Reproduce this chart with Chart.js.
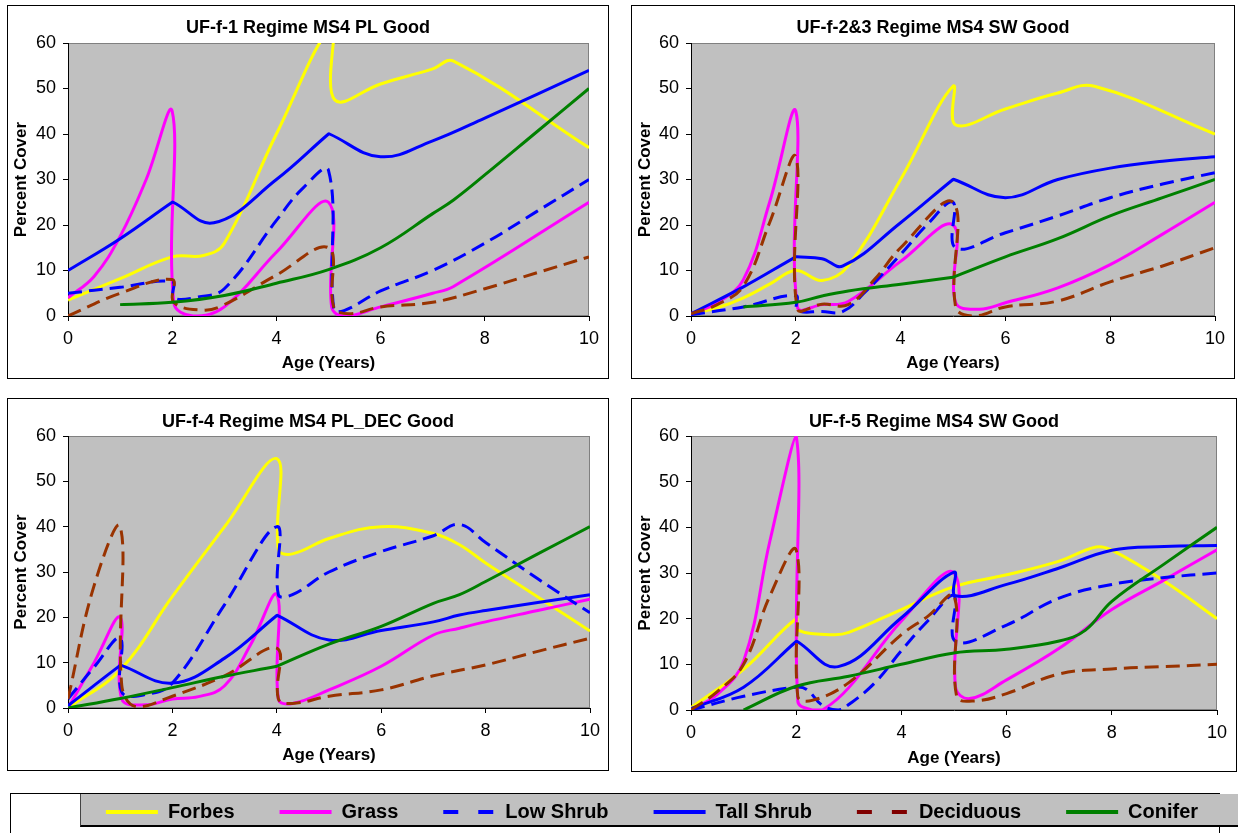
<!DOCTYPE html>
<html>
<head>
<meta charset="utf-8">
<title>Percent cover by age</title>
<script src="https://cdn.jsdelivr.net/npm/chart.js@4.4.1/dist/chart.umd.min.js"></script>
<style>
  html, body { margin: 0; padding: 0; background: #fff; }
  body { position: relative; width: 1238px; height: 833px; overflow: hidden; }
  .panel { position: absolute; box-sizing: border-box; border: 1px solid #000; background: #fff; }
  .panel canvas { display: block; }
  #legendFrame { position: absolute; left: 10px; top: 793px; width: 1210px; height: 60px; box-sizing: border-box; border: 1px solid #000; background: #fff; }
  #legendBand { position: absolute; left: 80px; top: 794px; width: 1170px; height: 33px; box-sizing: border-box; background: #c0c0c0; border-left: 1px solid #444; border-bottom: 2px solid #000; }
  #legendCanvas { position: absolute; left: 37px; top: 757px; }
</style>
</head>
<body>
<div class="panel" id="panel0"><canvas id="chart0"></canvas></div>
<div class="panel" id="panel1"><canvas id="chart1"></canvas></div>
<div class="panel" id="panel2"><canvas id="chart2"></canvas></div>
<div class="panel" id="panel3"><canvas id="chart3"></canvas></div>
<div id="legendFrame"></div>
<div id="legendBand"></div>
<canvas id="legendCanvas" width="1230" height="130"></canvas>
<script>
// values, each point is [age in years, percent cover]
// two points at nearly the same age give the sharp turns of the original
const seriesNames = ['Forbes', 'Grass', 'Low Shrub', 'Tall Shrub', 'Deciduous', 'Conifer'];
const panelTitles = [
  'UF-f-1 Regime MS4 PL Good',
  'UF-f-2&3 Regime MS4 SW Good',
  'UF-f-4 Regime MS4 PL_DEC Good',
  'UF-f-5 Regime MS4 SW Good'
];
const xTickValues = [0, 2, 4, 6, 8, 10];
const yTickValues = [0, 10, 20, 30, 40, 50, 60];

// UF-f-1
const p1Forbes = [[0,3.5],[1,8.2],[2,13],[2.6,13.3],[3,16],[4,40],[5.05,63],[5.12,47.5],[6,51],[7,54.3],[7.4,56],[10,37]];
const p1Grass = [[0,4],[0.5,8.7],[1,17.5],[1.5,30],[2,45],[2.03,3],[2.4,0],[3,2],[4,14],[5,25],[5.06,2],[5.3,0],[6,2],[7,5],[7.4,6.5],[10,25]];
const p1LowShrub = [[0,5],[1,6.3],[2,7.5],[2.03,4],[2.5,4.2],[3,6],[4,21],[4.5,28],[5,32],[5.1,1.5],[5.3,1.2],[6,5.5],[7,10],[8,16],[9,23],[10,30]];
const p1TallShrub = [[0,10],[1,17],[2,25],[2.02,25],[2.8,20.5],[4,30],[5,40],[5.02,40],[6,35],[7,38.5],[8,43.5],[10,54]];
const p1Deciduous = [[0,0],[1,5],[2,8],[2.03,3],[2.6,1.3],[3,2.5],[4,9],[5,15],[5.1,2],[5.4,0.5],[6,2],[7,3],[8,6],[9,9.5],[10,13]];
const p1Conifer = [[1,2.5],[2,3],[3,4.5],[4,7.2],[5,10.2],[6,15],[7,22.5],[7.4,25.5],[8,31],[9,40.5],[10,50]];

// UF-f-2&3
const p2Forbes = [[0,0.5],[0.5,1.8],[1,4],[1.5,7],[2,10],[2.5,7.8],[3,11],[4,30],[5,50.5],[5.05,42],[6,45.5],[7,49],[7.7,50.5],[10,40]];
const p2Grass = [[0,0.5],[0.5,2.9],[1,8],[1.5,25],[2,45],[2.03,2],[2.5,2.5],[3,3.2],[4,12],[5,20],[5.05,3],[5.5,1.5],[6,2.9],[7,6.2],[8,11.3],[9,18],[10,25]];
const p2LowShrub = [[0,0.3],[1,2],[2,4.5],[2.03,1.3],[2.5,1],[2.9,1],[3.3,5],[4,13.5],[4.5,20],[5,25],[5.05,15],[6,18.3],[7,22],[8,26],[9,29],[10,31.5]];
const p2TallShrub = [[0,0.5],[1,6.4],[2,13],[2.02,13],[2.5,12.6],[2.9,11],[4,20.5],[5,30],[5.02,30],[6,26],[7,30],[8,32.5],[9,34],[10,35]];
const p2Deciduous = [[0,0.5],[0.5,2.5],[1,6.6],[1.5,20.5],[2,35],[2.03,1.5],[2.5,2.6],[3,2.5],[3.5,8],[4,15],[5,25],[5.05,2],[5.4,0],[6,2],[7,3.3],[8,7.5],[9,11],[10,15]];
const p2Conifer = [[1,2],[2,3],[2.5,4.4],[3,5.5],[4,7],[5,8.5],[5.02,8.6],[6,13],[7,17],[8,22],[9,26],[10,30]];

// UF-f-4
const p3Forbes = [[0,0],[1,8.4],[2,24.6],[3,40],[4,55],[4.03,35],[4.3,34],[5,37.4],[6,40],[7,38.5],[7.5,36],[8,32],[9,24.5],[10,17]];
const p3Grass = [[0,0],[0.5,10],[1,20],[1.03,2],[1.5,0.7],[2,2],[2.5,2.5],[3,4.9],[3.5,14],[4,25],[4.03,2],[4.3,1],[5,4],[6,9.2],[7,16.1],[7.5,17.6],[8,19],[9,21.5],[10,24]];
const p3LowShrub = [[0,2],[0.5,9],[1,15.4],[1.03,3.5],[1.5,3],[2,5.5],[3,22.8],[4,40],[4.03,25],[4.3,25],[5,30],[6,34.5],[7,38],[7.5,40.5],[8,36.5],[9,28.5],[10,21]];
const p3TallShrub = [[0,0.5],[1,9.4],[1.02,9.4],[2,5.5],[3,11],[4,20.4],[4.02,20.4],[5,15],[6,17.1],[7,19],[7.5,20.5],[8,21.5],[10,25]];
const p3Deciduous = [[0,2],[0.5,27],[1,40],[1.03,5],[1.3,0.3],[2,2.6],[3,7.1],[4,13.2],[4.03,2],[4.3,1],[5,2.6],[6,4],[7,7.1],[8,9.5],[9,12.5],[10,15.4]];
const p3Conifer = [[0,0],[1,2.1],[2,4.5],[3,7],[4,9.2],[4.02,9.3],[5,14.1],[6,18],[7,23.1],[7.5,25],[8,27.9],[9,34],[10,40]];

// UF-f-5
const p4Forbes = [[0,0.5],[1,8.9],[2,20],[2.03,17.5],[2.7,16.5],[3,17],[4,22],[5,27],[6,29.6],[7,32.6],[7.7,35.7],[8,35],[9,28.2],[10,20]];
const p4Grass = [[0,0],[0.5,3.4],[1,10.7],[1.5,37],[2,60],[2.03,2],[2.3,0],[2.5,0],[3,4.9],[4,19.5],[5,30],[5.03,5],[5.3,2.5],[6,6.6],[7,13.5],[8,22],[9,28.5],[10,35.1]];
const p4LowShrub = [[0,0],[1,3],[2,5],[2.2,4.5],[2.5,1],[2.8,0],[3,1.2],[3.5,6],[4,13],[4.5,19.5],[5,25],[5.03,15],[6,18.6],[7,24.5],[8,27.5],[9,29],[10,30]];
const p4TallShrub = [[0,0.3],[1,5],[2,15],[2.02,15],[2.8,9.5],[4,20.2],[5,30.2],[5.03,25],[6,27.5],[7,31.1],[8,35],[9,35.8],[10,36]];
const p4Deciduous = [[0,0],[0.5,4],[1,10],[1.5,25],[2,35],[2.03,3],[2.3,2.1],[3,6],[4,16.5],[4.5,20.5],[5,25],[5.05,3],[5.4,2],[6,3.6],[7,7.9],[8,9],[9,9.5],[10,10]];
const p4Conifer = [[1,0],[2,5.2],[3,7.4],[4,10],[5,12.5],[6,13.3],[7,15.1],[7.5,17.5],[8,23.8],[9,32],[10,40]];

const panelSeries = [
  [p1Forbes, p1Grass, p1LowShrub, p1TallShrub, p1Deciduous, p1Conifer],
  [p2Forbes, p2Grass, p2LowShrub, p2TallShrub, p2Deciduous, p2Conifer],
  [p3Forbes, p3Grass, p3LowShrub, p3TallShrub, p3Deciduous, p3Conifer],
  [p4Forbes, p4Grass, p4LowShrub, p4TallShrub, p4Deciduous, p4Conifer]
];

// styling
const seriesColors = ['#ffff00', '#ff00ff', '#0000ff', '#0000ff', '#993300', '#008000'];
const seriesDash = [[], [], [14, 7], [], [14, 7], []];
const legendColors = ['#ffff00', '#ff00ff', '#0000ff', '#0000ff', '#800000', '#008000'];
const legendDash = [[], [], [15, 20], [], [15, 20], []];

// box position on the page, then sizes of the areas round the plot (canvas pixels)
const panelLayout = [
  {left: 7,   top: 5,   width: 602, height: 374, yw: 60, rw: 19, th: 37, xh: 62, titleY: 22,   xTitleY: 357.5},
  {left: 631, top: 5,   width: 604, height: 374, yw: 59, rw: 19, th: 37, xh: 62, titleY: 22,   xTitleY: 357.5},
  {left: 7,   top: 398, width: 602, height: 373, yw: 60, rw: 18, th: 37, xh: 62, titleY: 22.7, xTitleY: 356.7},
  {left: 631, top: 398, width: 606, height: 374, yw: 59, rw: 19, th: 37, xh: 61, titleY: 22.7, xTitleY: 359}
];

const FONT = '"Liberation Sans", Arial, sans-serif';
Chart.defaults.font.family = FONT;
Chart.defaults.color = '#000';

// grey plot area with a darker grey frame, like the old spreadsheet charts
const plotBackground = {
  id: 'plotBackground',
  beforeDraw(chart) {
    const {ctx, chartArea: a} = chart;
    ctx.save();
    ctx.fillStyle = '#c0c0c0';
    ctx.fillRect(a.left, a.top, a.right - a.left, a.bottom - a.top);
    ctx.strokeStyle = '#808080';
    ctx.lineWidth = 1;
    ctx.strokeRect(a.left + 0.5, a.top + 0.5, a.right - a.left - 1, a.bottom - a.top - 1);
    ctx.restore();
  }
};

function buildPanel(i) {
  const lay = panelLayout[i];
  const box = document.getElementById('panel' + i);
  box.style.left = lay.left + 'px';
  box.style.top = lay.top + 'px';
  box.style.width = lay.width + 'px';
  box.style.height = lay.height + 'px';
  const canvas = document.getElementById('chart' + i);
  canvas.width = lay.width - 2;
  canvas.height = lay.height - 2;
  const titleLine = 18 * 1.2;
  const axisTitleLine = 17 * 1.2;

  return new Chart(canvas, {
    type: 'line',
    data: {
      datasets: panelSeries[i].map((pts, k) => ({
        label: seriesNames[k],
        data: pts.map(([x, y]) => ({x, y})),
        borderColor: seriesColors[k],
        backgroundColor: seriesColors[k],
        borderDash: seriesDash[k],
        borderWidth: 3,
        pointRadius: 0,
        tension: 0.4,
        fill: false,
        order: seriesNames.length - 1 - k
      }))
    },
    options: {
      responsive: false,
      animation: false,
      events: [],
      layout: {padding: 0},
      plugins: {
        legend: {display: false},
        tooltip: {enabled: false},
        title: {
          display: true,
          text: panelTitles[i],
          color: '#000',
          font: {size: 18, weight: 'bold'},
          padding: {top: lay.titleY - titleLine / 2, bottom: lay.th - (lay.titleY - titleLine / 2) - titleLine}
        }
      },
      scales: {
        x: {
          type: 'linear',
          min: 0,
          max: 10,
          afterBuildTicks: s => { s.ticks = xTickValues.map(v => ({value: v})); },
          afterFit: s => { s.height = lay.xh; },
          ticks: {font: {size: 18}, color: '#000', padding: 7, maxRotation: 0},
          grid: {drawOnChartArea: false, tickLength: 5, color: '#000'},
          border: {color: '#000', width: 1},
          title: {
            display: true,
            text: 'Age (Years)',
            font: {size: 17, weight: 'bold'},
            color: '#000',
            padding: {top: 0, bottom: lay.height - 2 - lay.xTitleY - axisTitleLine / 2}
          }
        },
        y: {
          min: 0,
          max: 60,
          afterBuildTicks: s => { s.ticks = yTickValues.map(v => ({value: v})); },
          afterFit: s => { s.width = lay.yw; },
          ticks: {font: {size: 18}, color: '#000', padding: 7},
          grid: {drawOnChartArea: false, tickLength: 5, color: '#000'},
          border: {color: '#000', width: 1},
          title: {
            display: true,
            text: 'Percent Cover',
            font: {size: 17, weight: 'bold'},
            color: '#000',
            padding: {top: 3, bottom: 0}
          }
        },
        // empty strip on the right so the plot stops short of the frame
        rightGap: {
          position: 'right',
          display: true,
          afterFit: s => { s.width = lay.rw; },
          ticks: {display: false},
          grid: {display: false},
          border: {display: false}
        }
      }
    },
    plugins: [plotBackground]
  });
}

for (let i = 0; i < panelTitles.length; i++) buildPanel(i);

// shared legend along the bottom
new Chart(document.getElementById('legendCanvas'), {
  type: 'line',
  data: {
    datasets: seriesNames.map((name, k) => ({
      label: name,
      data: [],
      borderColor: seriesColors[k],
      borderDash: seriesDash[k],
      borderWidth: 4
    }))
  },
  options: {
    responsive: false,
    animation: false,
    events: [],
    scales: {x: {display: false}, y: {display: false}},
    plugins: {
      tooltip: {enabled: false},
      legend: {
        display: true,
        position: 'top',
        align: 'center',
        maxHeight: 300,
        labels: {
          usePointStyle: true,
          pointStyle: 'line',
          pointStyleWidth: 52,
          padding: 45,
          color: '#000',
          font: {size: 20, weight: 'bold'},
          generateLabels: chart => Chart.defaults.plugins.legend.labels.generateLabels(chart).map((item, k) =>
            Object.assign(item, {strokeStyle: legendColors[k], fillStyle: legendColors[k], lineWidth: 4, lineDash: legendDash[k], pointStyle: 'line'}))
        }
      }
    }
  }
});
</script>
</body>
</html>
